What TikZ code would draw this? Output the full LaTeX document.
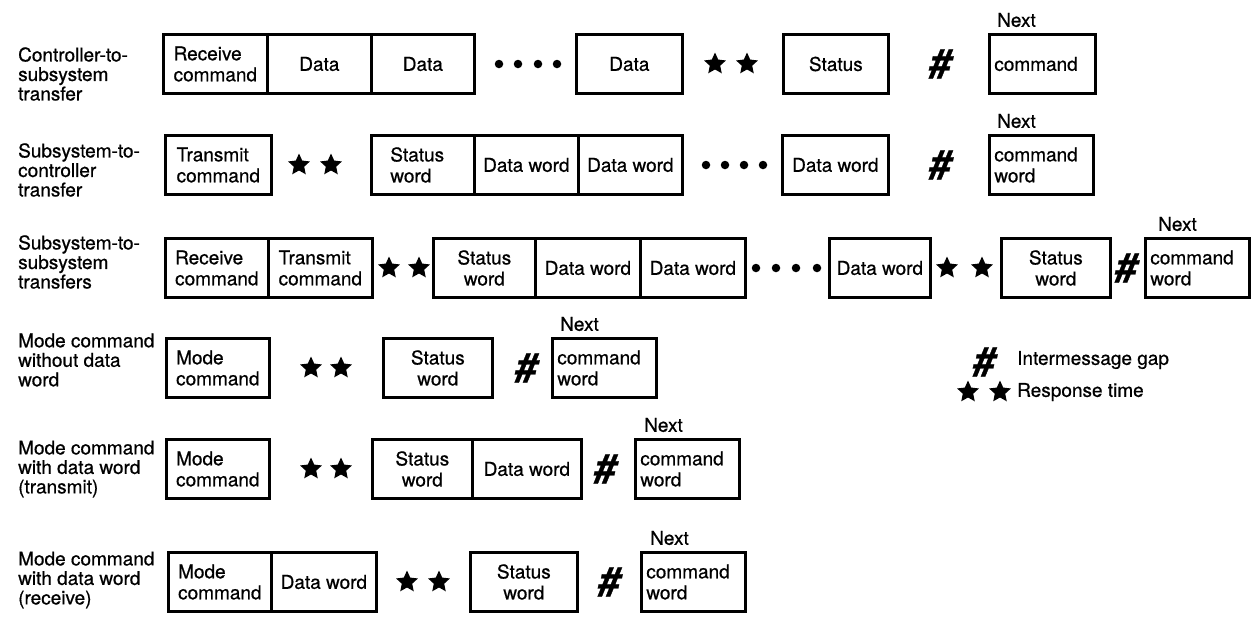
\documentclass[tikz,border=0pt]{standalone}
\usepackage{fontspec}
\setmainfont{TeX Gyre Heros}[FakeBold=0.7]
\usetikzlibrary{shapes.geometric}
\newcommand\txtfont{\fontsize{19}{19.5}\selectfont}
\newcommand\boxfont{\fontsize{19}{21}\selectfont}
\newcommand\hashfont{\fontsize{40}{40}\selectfont\bfseries\itshape}
\begin{document}
\begin{tikzpicture}[x=1pt,y=-1pt,
  wbox/.style={draw, line width=2.7pt, minimum height=59pt, inner sep=0pt, anchor=west, font=\boxfont, align=center},
  lbox/.style={wbox, align=left},
  nbox/.style={wbox, align=left, inner xsep=5pt},
  lbl/.style={anchor=west, align=left, font=\txtfont, inner sep=0pt},
  nxt/.style={anchor=west, font=\txtfont, inner sep=0pt},
  dotm/.style={circle, fill, inner sep=0pt, minimum size=8.5pt},
  st/.style={star, star points=5, star point ratio=2.1, fill, draw=none, inner sep=0pt, minimum size=23pt},
  gapm/.style={font=\hashfont, inner sep=0pt}]
\useasboundingbox (0,0) rectangle (1253,627);

% ---------- labels ----------
\node[lbl] (l1) at (18,74) {Controller-to-\\subsystem\\transfer};
\node[lbl] (l2) at (18,170) {Subsystem-to-\\controller\\transfer};
\node[lbl] (l3) at (18,262) {Subsystem-to-\\subsystem\\transfers};
\node[lbl] (l4) at (18,360) {Mode command\\without data\\word};
\node[lbl] (l5) at (18,469) {Mode command\\with data word\\(transmit)};
\node[lbl] (l6) at (18,580) {Mode command\\with data word\\(receive)};

% ---------- row 1 ----------
\node[lbox, minimum width=104pt] (r1a) at (162,64) {Receive\\command};
\node[wbox, minimum width=104pt] (r1b) at (266,64) {Data};
\node[wbox, minimum width=103pt] (r1c) at (370,64) {Data};
\node[dotm] (r1d1) at (499,64) {};
\node[dotm] (r1d2) at (518,64) {};
\node[dotm] (r1d3) at (538,64) {};
\node[dotm] (r1d4) at (557,64) {};
\node[wbox, minimum width=106pt] (r1d) at (575,64) {Data};
\node[st] (r1s1) at (715,64) {};
\node[st] (r1s2) at (747,64) {};
\node[wbox, minimum width=105pt] (r1e) at (782,64) {Status};
\node[gapm] (r1g) at (940,64) {\#};
\node[nbox, text width=96pt] (r1f) at (988,64) {command};
\node[nxt] (r1n) at (997,20) {Next};

% ---------- row 2 ----------
\node[lbox, minimum width=106pt] (r2a) at (164,165) {Transmit\\command};
\node[st] (r2s1) at (299,165) {};
\node[st] (r2s2) at (331,165) {};
\node[lbox, text width=65pt, inner xsep=19pt] (r2b) at (370,165) {Status\\word};
\node[wbox, minimum width=104pt] (r2c) at (473,165) {Data word};
\node[wbox, minimum width=104pt] (r2d) at (577,165) {Data word};
\node[dotm] (r2d1) at (706,165) {};
\node[dotm] (r2d2) at (725,165) {};
\node[dotm] (r2d3) at (744,165) {};
\node[dotm] (r2d4) at (763,165) {};
\node[wbox, minimum width=106pt] (r2e) at (781,165) {Data word};
\node[gapm] (r2g) at (940,165) {\#};
\node[nbox, text width=94pt] (r2f) at (988,165) {command\\word};
\node[nxt] (r2n) at (997,121) {Next};

% ---------- row 3 ----------
\node[lbox, minimum width=103pt] (r3a) at (164,268) {Receive\\command};
\node[lbox, minimum width=104pt] (r3b) at (267,268) {Transmit\\command};
\node[st] (r3s1) at (389,268) {};
\node[st] (r3s2) at (419,268) {};
\node[wbox, minimum width=102pt] (r3c) at (432,268) {Status\\word};
\node[wbox, minimum width=105pt] (r3d) at (534,268) {Data word};
\node[wbox, minimum width=105pt] (r3e) at (639,268) {Data word};
\node[dotm] (r3d1) at (756,268) {};
\node[dotm] (r3d2) at (776,268) {};
\node[dotm] (r3d3) at (796,268) {};
\node[dotm] (r3d4) at (817,268) {};
\node[wbox, minimum width=101pt] (r3f) at (828,268) {Data word};
\node[st] (r3s3) at (947,268) {};
\node[st] (r3s4) at (982,268) {};
\node[wbox, minimum width=109pt] (r3g) at (1000,268) {Status\\word};
\node[gapm] (r3h) at (1126,268) {\#};
\node[nbox, text width=94pt] (r3i) at (1144,268) {command\\word};
\node[nxt] (r3n) at (1158,224) {Next};

% ---------- row 4 ----------
\node[lbox, minimum width=103pt] (r4a) at (165,368) {Mode\\command};
\node[st] (r4s1) at (311,368) {};
\node[st] (r4s2) at (341,368) {};
\node[wbox, minimum width=109pt] (r4b) at (382,368) {Status\\word};
\node[gapm] (r4g) at (526,368) {\#};
\node[nbox, text width=94pt] (r4c) at (551,368) {command\\word};
\node[nxt] (r4n) at (560,324) {Next};

% ---------- row 5 ----------
\node[lbox, minimum width=103pt] (r5a) at (165,469) {Mode\\command};
\node[st] (r5s1) at (311,469) {};
\node[st] (r5s2) at (341,469) {};
\node[wbox, minimum width=100pt] (r5b) at (371,469) {Status\\word};
\node[wbox, minimum width=109pt] (r5c) at (471,469) {Data word};
\node[gapm] (r5g) at (605,469) {\#};
\node[nbox, text width=94pt] (r5d) at (634,469) {command\\word};
\node[nxt] (r5n) at (644,425) {Next};

% ---------- row 6 ----------
\node[lbox, minimum width=103pt] (r6a) at (167,582) {Mode\\command};
\node[wbox, minimum width=105pt] (r6b) at (270,582) {Data word};
\node[st] (r6s1) at (407,582) {};
\node[st] (r6s2) at (439,582) {};
\node[wbox, minimum width=107pt] (r6c) at (469,582) {Status\\word};
\node[gapm] (r6g) at (609,582) {\#};
\node[nbox, text width=94pt] (r6d) at (640,582) {command\\word};
\node[nxt] (r6n) at (650,538) {Next};

% ---------- legend ----------
\node[gapm] (kg) at (984,362) {\#};
\node[nxt] (kgt) at (1017,360) {Intermessage gap};
\node[st] (ks1) at (968,392) {};
\node[st] (ks2) at (1000,392) {};
\node[nxt] (kst) at (1017,392) {Response time};
\end{tikzpicture}
\end{document}
